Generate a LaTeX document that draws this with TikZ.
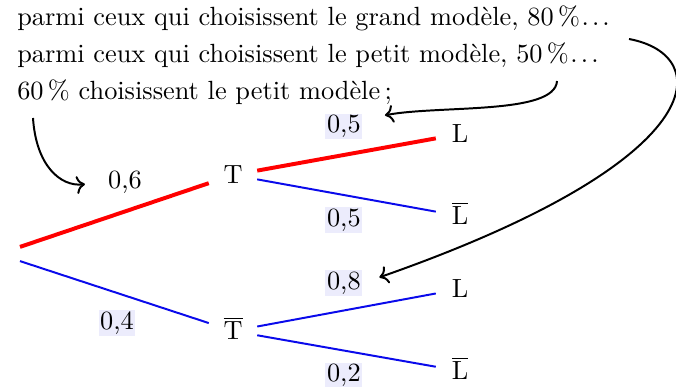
\documentclass[tikz,border=0pt]{standalone}
\usepackage{amsmath}
\usepackage{xcolor}
\definecolor{treered}{RGB}{255, 0, 0}
\definecolor{treeblue}{RGB}{10, 10, 235}
\definecolor{probbg}{RGB}{236, 236, 252}
\usepackage{tikz}
\usetikzlibrary{arrows.meta, positioning}
\newcommand{\suspdots}{\kern0.6pt.\kern1.2pt.\kern1.2pt.}

\begin{document}
\begin{tikzpicture}[x=0.38pt, y=-0.38pt,
    every node/.append style={font=\fontsize{10}{12}\selectfont},
    evt/.style={minimum width=18pt, inner sep=3pt, text height=6.8pt, text depth=0pt},
    probplain/.style={inner sep=0.6pt, text=black},
    prob/.style={probplain, fill=probbg},
    redbranch/.style={treered, line width=1.5pt},
    bluebranch/.style={treeblue, line width=0.75pt},
    hint/.style={->, line width=0.75pt}]
  \useasboundingbox (0,0) rectangle (676,387);
  % Statement lines
  \node[anchor=base west] (line1) at (8,26) {parmi ceux qui choisissent le grand mod\`ele, 80\,\%\suspdots};
  \node[anchor=base west] (line2) at (8,63) {parmi ceux qui choisissent le petit mod\`ele, 50\,\%\suspdots};
  \node[anchor=base west] (line3) at (8,100) {60\,\% choisissent le petit mod\`ele\,;};
  % Tree
  \node[inner sep=0pt, minimum width=0pt, minimum height=5pt] (root) at (20,254) {};
  \node[evt] (T) at (233,175) {T};
  \node[evt] (Tb) at (233,331) {$\overline{\mathrm{T}}$};
  \node[evt] (L1) at (460,134) {L};
  \node[evt] (Lb1) at (460,216) {$\overline{\mathrm{L}}$};
  \node[evt] (L2) at (460,289) {L};
  \node[evt] (Lb2) at (460,371) {$\overline{\mathrm{L}}$};
  % Branches with probabilities
  \draw[redbranch] (root.north) -- node[probplain, above=6.9pt, xshift=4pt] (p6) {0,6} (T);
  \draw[bluebranch] (root.south) -- node[prob, below=6.6pt, xshift=1pt] (p4) {0,4} (Tb);
  \draw[redbranch] (T) -- node[prob, above=5pt, xshift=-1pt] (p5a) {0,5} (L1);
  \draw[bluebranch] (T) -- node[prob, below=4pt, xshift=-1pt] (p5b) {0,5} (Lb1);
  \draw[bluebranch] (Tb) -- node[prob, above=5pt, xshift=-1pt] (p8) {0,8} (L2);
  \draw[bluebranch] (Tb) -- node[prob, below=4pt, xshift=-1pt] (p2) {0,2} (Lb2);
  % Arrows from the statement to the tree
  \coordinate (from60) at (33,118);
  \coordinate (from50) at (557,81);
  \coordinate (from80) at (629,39);
  \draw[hint, shorten >=7.5pt] (from60) .. controls (36,165) and (60,187) .. (p6.west);
  \draw[hint, shorten >=8pt] (from50) .. controls (555,115) and (440,105) .. (p5a.20);
  \draw[hint, shorten >=6.5pt] (from80) .. controls (715,55) and (715,160) .. (p8.east);
\end{tikzpicture}
\end{document}
